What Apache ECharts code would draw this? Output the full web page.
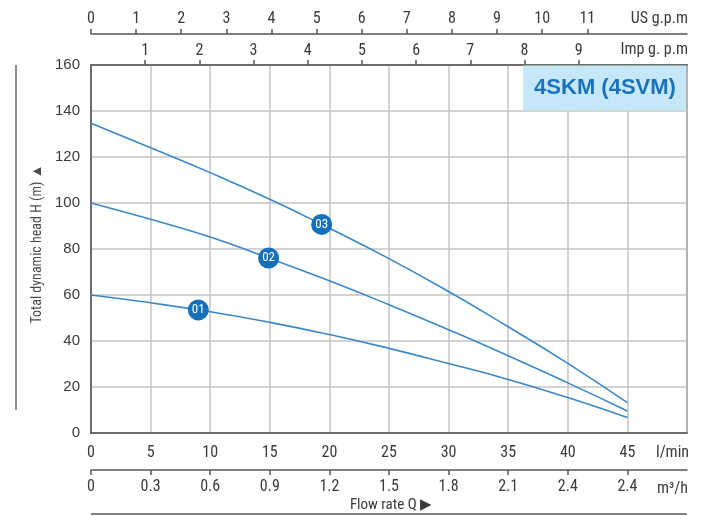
<!DOCTYPE html>
<html>
<head>
<meta charset="utf-8">
<script src="https://cdn.jsdelivr.net/npm/echarts@6/dist/echarts.min.js"></script>
<style>
html,body{margin:0;padding:0;background:#fff;}
#chart{width:725px;height:516px;}
</style>
</head>
<body>
<div id="chart"></div>
<script>
// ---- data ----
const flowLmin = [0, 5, 10, 15, 20, 25, 30, 35, 40, 45];
const head01 = [60, 56.6, 52.7, 48.1, 42.8, 36.8, 30.2, 23.3, 15.4, 6.7];
const head02 = [100, 92.9, 85.2, 75.9, 66.2, 55.8, 44.9, 33.6, 21.8, 9.6];
const head03 = [134.7, 124, 113.2, 101.6, 89, 75.8, 61.5, 46.2, 30.3, 13.2];
const markerNames = ['01', '02', '03'];
const markerFlow = [9.0, 14.9, 19.35];
const markerHead = [53.5, 76.1, 90.7];
const lminTicks = [0, 5, 10, 15, 20, 25, 30, 35, 40, 45];
const m3hLabels = ['0', '0.3', '0.6', '0.9', '1.2', '1.5', '1.8', '2.1', '2.4', '2.4'];
const usGpmTicks = [0, 1, 2, 3, 4, 5, 6, 7, 8, 9, 10, 11];
const impGpmTicks = [1, 2, 3, 4, 5, 6, 7, 8, 9];
const L_PER_US_GPM = 3.785;
const L_PER_IMP_GPM = 4.546;
const headTicks = [0, 20, 40, 60, 80, 100, 120, 140, 160];

const NARROW = "'Liberation Sans Narrow','Arial Narrow','Roboto Condensed','Liberation Sans',sans-serif";
const SANS = "'Liberation Sans',Arial,sans-serif";
const AXIS_DARK = '#555';
const GRID_GRAY = '#c4c4c4';
const LINE_BLUE = '#3b88c9';
const MARK_BLUE = '#1470b8';

const usVals = usGpmTicks.map(v => v * L_PER_US_GPM);
const impVals = impGpmTicks.map(v => v * L_PER_IMP_GPM);

const chart = echarts.init(document.getElementById('chart'), null, {renderer: 'canvas'});

function curve(data) {
  return {
    type: 'line',
    xAxisIndex: 0, yAxisIndex: 0,
    data: flowLmin.map((x, i) => [x, data[i]]),
    smooth: true,
    showSymbol: false,
    lineStyle: {color: LINE_BLUE, width: 1.6},
    silent: true,
    z: 3
  };
}

const option = {
  animation: false,
  backgroundColor: '#fff',
  grid: {
    left: 91, right: 38, top: 65, bottom: 83,
    show: true, borderColor: AXIS_DARK, borderWidth: 1.5, backgroundColor: 'transparent'
  },
  xAxis: [
    {
      type: 'value', position: 'bottom', min: 0, max: 50, interval: 5,
      axisLine: {show: true, lineStyle: {color: AXIS_DARK, width: 1.5}},
      axisTick: {show: false},
      splitLine: {show: true, lineStyle: {color: GRID_GRAY, width: 1.5}},
      axisLabel: {
        customValues: lminTicks, margin: 12, color: '#3a3a3a',
        fontFamily: NARROW, fontSize: 16,
        formatter: v => String(v)
      }
    },
    {
      type: 'value', position: 'bottom', offset: 37, min: 0, max: 50,
      axisLine: {show: true, lineStyle: {color: AXIS_DARK, width: 1.5}},
      axisTick: {show: true, customValues: lminTicks, length: 5, lineStyle: {color: AXIS_DARK, width: 1.5}},
      splitLine: {show: false},
      axisLabel: {
        customValues: lminTicks, margin: 9, color: '#3a3a3a',
        fontFamily: NARROW, fontSize: 16,
        formatter: v => m3hLabels[lminTicks.indexOf(Math.round(v))] || ''
      }
    },
    {
      type: 'value', position: 'top', offset: 31, min: 0, max: 50,
      axisLine: {show: true, lineStyle: {color: AXIS_DARK, width: 1.5}},
      axisTick: {show: true, customValues: usVals, length: 5, lineStyle: {color: AXIS_DARK, width: 1.5}},
      splitLine: {show: false},
      axisLabel: {
        customValues: usVals, margin: 7, color: '#3a3a3a',
        fontFamily: NARROW, fontSize: 16,
        formatter: v => String(Math.round(v / L_PER_US_GPM))
      }
    },
    {
      type: 'value', position: 'top', offset: 0, min: 0, max: 50,
      axisLine: {show: true, lineStyle: {color: AXIS_DARK, width: 1.5}},
      axisTick: {show: true, customValues: impVals, length: 5, lineStyle: {color: AXIS_DARK, width: 1.5}},
      splitLine: {show: false},
      axisLabel: {
        customValues: impVals, margin: 6, color: '#3a3a3a',
        fontFamily: NARROW, fontSize: 16,
        formatter: v => String(Math.round(v / L_PER_IMP_GPM))
      }
    }
  ],
  yAxis: [
    {
      type: 'value', min: 0, max: 160, interval: 20,
      axisLine: {show: true, lineStyle: {color: AXIS_DARK, width: 1.5}},
      axisTick: {show: false},
      splitLine: {show: true, lineStyle: {color: GRID_GRAY, width: 1.5}},
      axisLabel: {
        customValues: headTicks, margin: 11, color: '#3a3a3a',
        fontFamily: SANS, fontSize: 15
      }
    }
  ],
  series: [
    curve(head01),
    curve(head02),
    curve(head03),
    {
      type: 'scatter',
      xAxisIndex: 0, yAxisIndex: 0,
      data: markerNames.map((n, i) => ({value: [markerFlow[i], markerHead[i]], name: n})),
      symbol: 'circle', symbolSize: 21,
      itemStyle: {color: MARK_BLUE, opacity: 1},
      label: {
        show: true, position: 'inside', formatter: p => p.name,
        color: '#ffffff', fontFamily: NARROW, fontSize: 13
      },
      silent: true,
      z: 5
    }
  ],
  graphic: [
    {type: 'rect', z: 10, shape: {x: 523, y: 65.5, width: 163, height: 45},
     style: {fill: '#c6e7f7'}},
    {type: 'text', z: 11, x: 605, y: 88,
     style: {text: '4SKM (4SVM)', fill: '#1a73ba', font: "bold 22px 'Liberation Sans',Arial,sans-serif",
             align: 'center', verticalAlign: 'middle'}},
    {type: 'text', z: 11, x: 688, y: 19,
     style: {text: 'US g.p.m', fill: '#3a3a3a', font: "16px " + NARROW, align: 'right', verticalAlign: 'middle'}},
    {type: 'text', z: 11, x: 688, y: 50,
     style: {text: 'Imp g. p.m', fill: '#3a3a3a', font: "16px " + NARROW, align: 'right', verticalAlign: 'middle'}},
    {type: 'text', z: 11, x: 656, y: 453,
     style: {text: 'l/min', fill: '#3a3a3a', font: "16px " + NARROW, align: 'left', verticalAlign: 'middle'}},
    {type: 'text', z: 11, x: 657, y: 489,
     style: {text: 'm³/h', fill: '#3a3a3a', font: "16px " + NARROW, align: 'left', verticalAlign: 'middle'}},
    {type: 'text', z: 11, x: 391, y: 505,
     style: {text: 'Flow rate Q ▶', fill: '#3a3a3a', font: "15px " + NARROW, align: 'center', verticalAlign: 'middle'}},
    {type: 'line', z: 11, shape: {x1: 91, y1: 514, x2: 687, y2: 514},
     style: {stroke: AXIS_DARK, lineWidth: 1.5}},
    {type: 'line', z: 11, shape: {x1: 16, y1: 65, x2: 16, y2: 410},
     style: {stroke: '#666', lineWidth: 1.5}},
    {type: 'text', z: 11, x: 37, y: 244, rotation: Math.PI / 2,
     style: {text: 'Total dynamic head H (m) ▲', fill: '#4a4a4a', font: "14px " + NARROW,
             align: 'center', verticalAlign: 'middle'}}
  ]
};
chart.setOption(option);
</script>
</body>
</html>
